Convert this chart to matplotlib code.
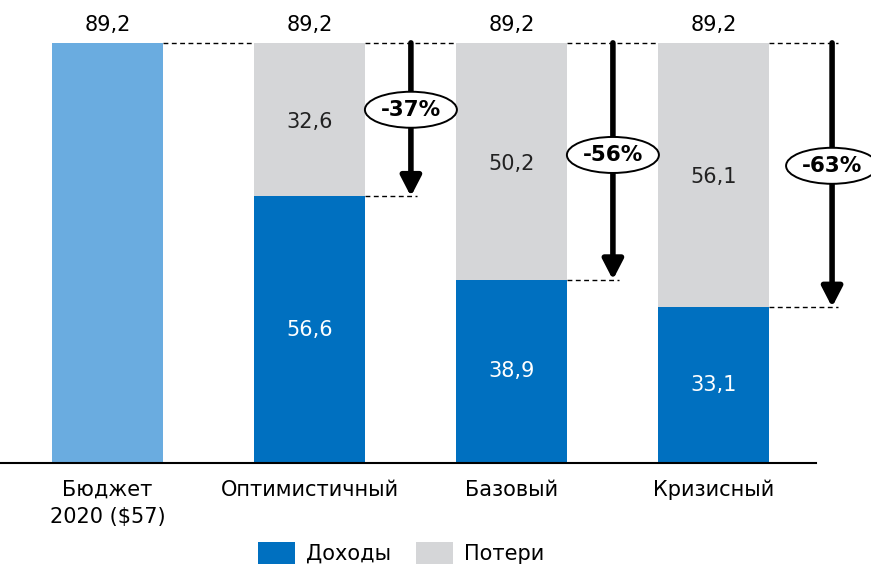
import matplotlib.pyplot as plt
from matplotlib.patches import Ellipse

plt.rcParams['font.family'] = ['DejaVu Sans']

# data
categories = ['Бюджет\n2020 ($57)', 'Оптимистичный', 'Базовый', 'Кризисный']
budget = 89.2
revenue = [56.6, 38.9, 33.1]   # Доходы
losses = [32.6, 50.2, 56.1]    # Потери
changes = ['-37%', '-56%', '-63%']
label_y = [75.0, 65.4, 63.1]

c_light = '#6aace0'
c_blue = '#0070c0'
c_gray = '#d5d6d8'

fig = plt.figure(figsize=(8.71, 5.66), dpi=100)
ax = fig.add_axes([0, 103/566, 1, 463/566])
w = 0.55
x = list(range(len(categories)))
fs = 15

# first bar (budget)
ax.bar(0, budget, width=w, color=c_light)
ax.text(0, budget + 1.6, f'{budget:.1f}'.replace('.', ','), ha='center', va='bottom', fontsize=fs)

# stacked scenario bars
sx = x[1:]
ax.bar(sx, revenue, width=w, color=c_blue, label='Доходы')
ax.bar(sx, losses, width=w, bottom=revenue, color=c_gray, label='Потери')

arrow_x = [1.502, 2.502, 3.587]
for i, xi in enumerate(sx):
    r, l = revenue[i], losses[i]
    top = budget
    ax.text(xi, top + 1.6, f'{top:.1f}'.replace('.', ','), ha='center', va='bottom', fontsize=fs)
    ax.text(xi, r / 2, f'{r:.1f}'.replace('.', ','), ha='center', va='center', fontsize=fs, color='white')
    ax.text(xi, r + l / 2 - 0.5, f'{l:.1f}'.replace('.', ','), ha='center', va='center', fontsize=fs, color='#222222')

    ax_ = arrow_x[i]
    # dashed guide lines
    ax.plot([xi - 1 + w / 2, xi - w / 2], [top, top], ls=(0, (3.5, 2.5)), color='black', lw=1)
    ax.plot([xi + w / 2, ax_ + 0.03], [r, r], ls=(0, (3.5, 2.5)), color='black', lw=1)
    if i == len(sx) - 1:
        ax.plot([xi + w / 2, ax_ + 0.03], [top, top], ls=(0, (3.5, 2.5)), color='black', lw=1)

    ax.annotate('', xy=(ax_, r), xytext=(ax_, top),
                arrowprops=dict(arrowstyle='-|>,head_width=0.62,head_length=1.2',
                                lw=4, color='black', shrinkA=0, shrinkB=0))
    ax.add_patch(Ellipse((ax_, label_y[i]), 92 / 202, 36 / 4.709, fc='white', ec='black',
                         lw=1.4, zorder=5, clip_on=False))
    ax.text(ax_, label_y[i], changes[i], ha='center', va='center', fontsize=15.5,
            fontweight='bold', zorder=6)

ax.set_xlim(-107.5 / 202, (871 - 107.5) / 202)
ax.set_ylim(0, 98.3)
ax.axhline(0, xmin=0, xmax=816 / 871, color='black', lw=1.5, clip_on=False)
for s in ax.spines.values():
    s.set_visible(False)
ax.set_yticks([])
ax.set_xticks(x)
ax.set_xticklabels(categories, fontsize=fs, linespacing=1.45)
ax.tick_params(axis='x', length=0, pad=12)

fig.legend(loc='lower center', bbox_to_anchor=(401 / 871, -0.03), ncol=2, frameon=False,
           fontsize=fs, handlelength=1.8, handleheight=1.3, handletextpad=0.5,
           columnspacing=1.2)

fig.savefig('out.png', dpi=100)
